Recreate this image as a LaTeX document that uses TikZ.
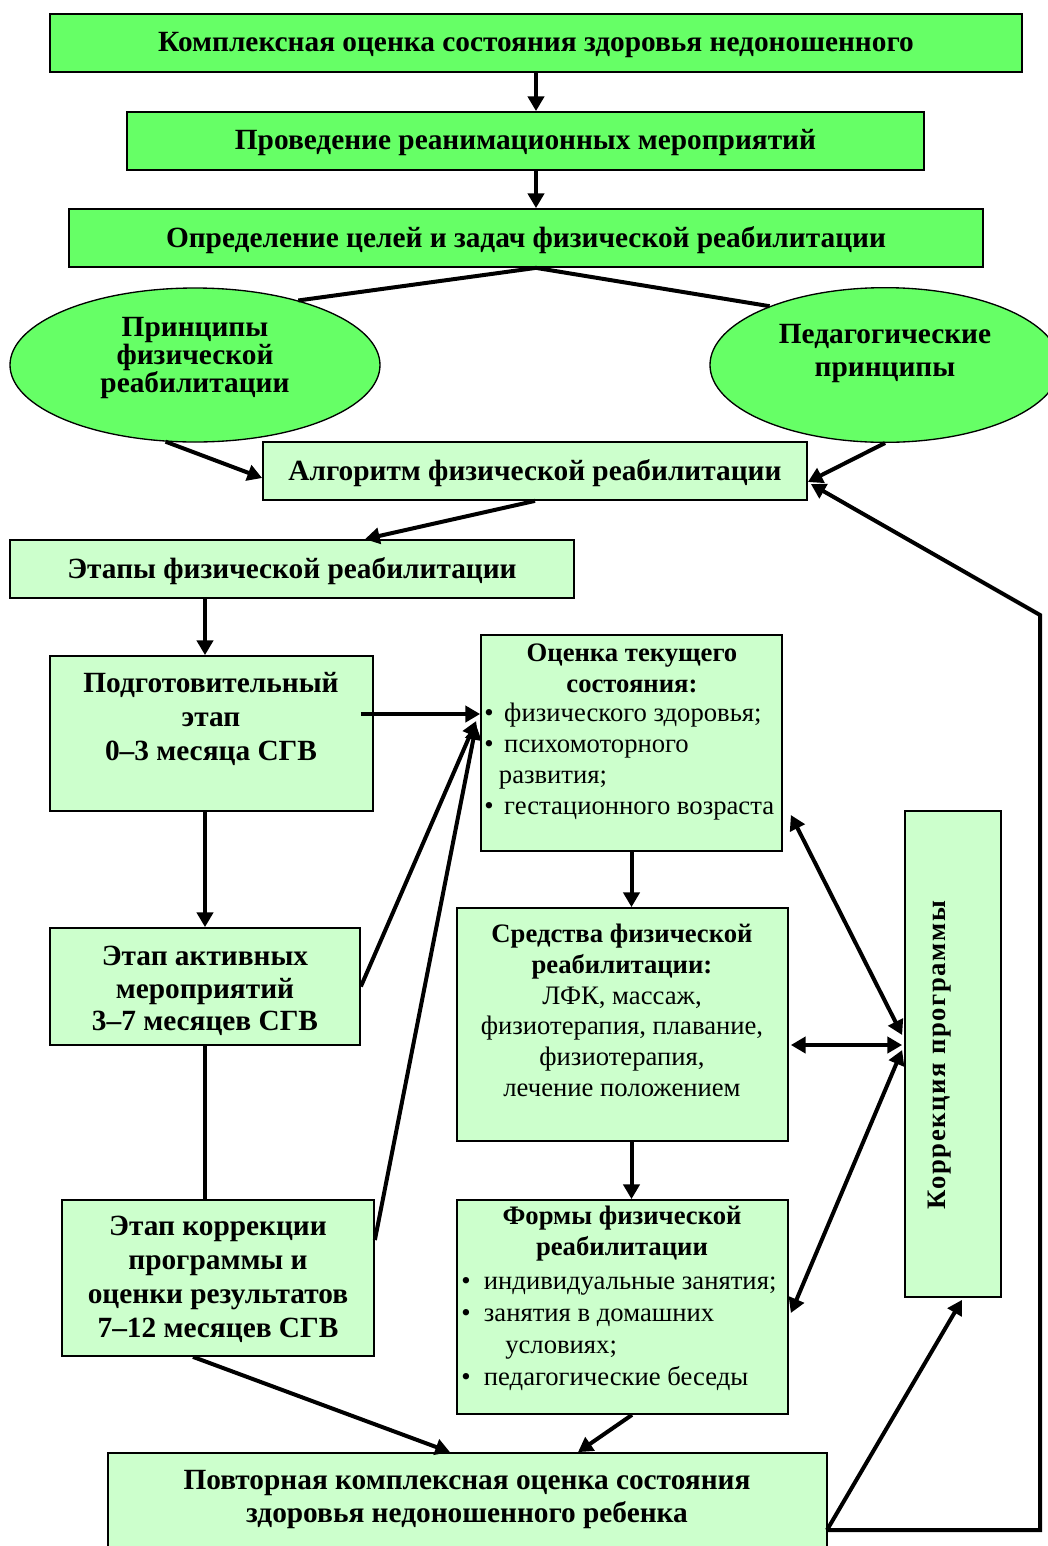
\documentclass[tikz,border=0pt]{standalone}
\usepackage{fontspec}
\setmainfont{Liberation Serif}
\newfontfamily\spaced[LetterSpace=6]{Liberation Serif}
\usetikzlibrary{arrows.meta,shapes.geometric,fit,calc}
\definecolor{bgreen}{HTML}{66FF66}
\definecolor{lgreen}{HTML}{CCFFCC}
\begin{document}
\begin{tikzpicture}[x=0.75pt,y=-0.75pt,
 gbox/.style={draw=black,line width=1.3pt,fill=bgreen,inner sep=0pt},
 lbox/.style={draw=black,line width=1.3pt,fill=lgreen,inner sep=0pt},
 ell/.style={ellipse,draw=black,line width=1pt,fill=bgreen,inner sep=0pt},
 txt/.style={inner sep=0pt,font=\fontsize{22}{25}\selectfont\bfseries,align=center},
 stxt/.style={inner sep=0pt,font=\fontsize{20}{23.25}\selectfont\bfseries,align=center},
 ntxt/.style={inner sep=0pt,font=\fontsize{20}{23.25}\selectfont,align=left},
 conn/.style={line width=3pt},
 arr/.style={conn,-{Triangle[length=11pt,width=12pt]}},
 darr/.style={conn,{Triangle[length=11pt,width=12pt]}-{Triangle[length=11pt,width=12pt]}},
]
\clip (0,0) rectangle (1048,1546);
\fill[white] (0,0) rectangle (1048,1546);

% top boxes
\node[gbox,fit={(50,14)(1022,72)}] (b1) {};
\node[txt] (t1) at ($(b1.center)+(0,2)$) {Комплексная оценка состояния здоровья недоношенного};
\node[gbox,fit={(127,112)(924,170)}] (b2) {};
\node[txt] (t2) at ($(b2.center)+(0,2)$) {Проведение реанимационных мероприятий};
\node[gbox,fit={(69,209)(983,267)}] (b3) {};
\node[txt] (t3) at ($(b3.center)+(0,2)$) {Определение целей и задач физической реабилитации};

% ellipses
\node[ell,minimum width=277.5pt,minimum height=115.5pt] (eL) at (195,365) {};
\node[txt,font=\fontsize{22}{21}\selectfont\bfseries] (teL) at (195,358) {Принципы\\физической\\реабилитации};
\node[ell,minimum width=262.5pt,minimum height=116pt] (eR) at (885,365) {};
\node[txt,font=\fontsize{22}{24.75}\selectfont\bfseries] (teR) at (885,354) {Педагогические\\принципы};

% algorithm & stages
\node[lbox,fit={(263,442)(807,500)}] (alg) {};
\node[txt] (talg) at ($(alg.center)+(0,2)$) {Алгоритм физической реабилитации};
\node[lbox,fit={(10,540)(574,598)}] (etapy) {};
\node[txt] (tetapy) at ($(etapy.center)+(0,2)$) {Этапы физической реабилитации};

\node[lbox,fit={(50,656)(373,811)}] (prep) {};
\node[txt,font=\fontsize{22}{25.5}\selectfont\bfseries] (tprep) at (211,719) {Подготовительный\\этап\\0--3 месяца СГВ};
\node[lbox,fit={(50,928)(360,1045)}] (aktiv) {};
\node[txt,font=\fontsize{22}{24.5}\selectfont\bfseries] (taktiv) at (205,991) {Этап активных\\мероприятий\\3--7 месяцев СГВ};
\node[lbox,fit={(62,1200)(374,1356)}] (korretap) {};
\node[txt,font=\fontsize{22}{25.5}\selectfont\bfseries] (tkorretap) at (218,1279) {Этап коррекции\\программы и\\оценки результатов\\7--12 месяцев СГВ};

% middle column
\node[lbox,fit={(481,635)(782,851)}] (ocenka) {};
\node[stxt] (tocenka) at (632,668) {Оценка текущего\\состояния:};
\node[ntxt,anchor=west] (locenka) at (484,761.5) {\makebox[15pt][l]{•}физического здоровья;\\\makebox[15pt][l]{•}психомоторного\\\hspace{11pt}развития;\\\makebox[15pt][l]{•}гестационного возраста};

\node[lbox,fit={(457,908)(788,1141)}] (sredstva) {};
\node[inner sep=0pt,align=center,font=\fontsize{20}{23}\selectfont] (tsredstva) at (622,1010.5) {\textbf{Средства физической}\\\textbf{реабилитации:}\\ЛФК, массаж,\\физиотерапия, плавание,\\физиотерапия,\\лечение положением};

\node[lbox,fit={(457,1200)(788,1414)}] (formy) {};
\node[stxt] (tformy) at (622,1233.5) {Формы физической\\реабилитации};
\node[ntxt,anchor=west,font=\fontsize{20}{24}\selectfont] (lformy) at (461,1334) {\makebox[17pt][l]{•}индивидуальные занятия;\\\makebox[17pt][l]{•}занятия в домашних\\\hspace{33pt}условиях;\\\makebox[17pt][l]{•}педагогические беседы};

% correction
\node[lbox,fit={(905,811)(1001,1297)}] (korr) {};
\node[inner sep=0pt,rotate=90,font=\fontsize{20}{23}\spaced\bfseries] (tkorr) at (940,1055) {Коррекция программы};

% bottom
\node[lbox,fit={(108,1453)(827,1560)}] (povtor) {};
\node[txt,font=\fontsize{22}{24.75}\selectfont\bfseries] (tpovtor) at (467,1499) {Повторная комплексная оценка состояния\\здоровья недоношенного ребенка};

% connectors
\draw[arr] (b1.south) -- (b1.south |- b2.north);
\draw[arr] (b1.south |- b2.south) -- (b1.south |- b3.north);
\coordinate (top) at (b1.south |- b3.south);
\draw[conn] (eL.32) -- (top) -- (eR.153);
\draw[arr] (eL.-111) -- ($(alg.west)+(0,7)$);
\draw[arr] (eR.-90) -- ($(alg.east)+(0,11)$);
\draw[arr] (alg.south) -- ($(etapy.north)+(73,0)$);
\coordinate (c205) at (205,0);
\draw[arr] (c205 |- etapy.south) -- (c205 |- prep.north);
\draw[arr] (c205 |- prep.south) -- (c205 |- aktiv.north);
\draw[conn] (c205 |- aktiv.south) -- (c205 |- korretap.north);
\coordinate (p1) at ($(prep.east)+(-13,-19.5)$);
\draw[arr] (p1) -- (p1 -| ocenka.west);
\draw[arr] (aktiv.east) -- ($(ocenka.west)+(-4,-22)$);
\draw[arr] ($(korretap.east)+(0,-38)$) -- ($(ocenka.west)+(-4,-18)$);
\draw[arr] (ocenka.south) -- (ocenka.south |- sredstva.north);
\draw[arr] (ocenka.south |- sredstva.south) -- (ocenka.south |- formy.north);
\draw[darr] ($(ocenka.east)+(8,72)$) -- ($(korr.west)+(-2,-19)$);
\draw[darr] ($(sredstva.east)+(2,20.5)$) -- ($(korr.west)+(-2,-9)$);
\draw[darr] ($(formy.east)+(2,6)$) -- ($(korr.west)+(-2,-4)$);
\draw[arr] ($(formy.south)+(9.5,0)$) -- ($(povtor.north)+(110.5,0)$);
\draw[arr] ($(korretap.south)+(-25,0)$) -- ($(povtor.north)+(-17.5,0)$);
\coordinate (pr) at (827,1530);
\coordinate (rt) at (1040,615);
\draw[arr] (pr) -- ($(korr.south)+(9,2)$);
\draw[arr,line join=miter] (pr) -- (pr -| rt) -- (rt) -- ($(alg.east)+(3,13)$);
\end{tikzpicture}
\end{document}
